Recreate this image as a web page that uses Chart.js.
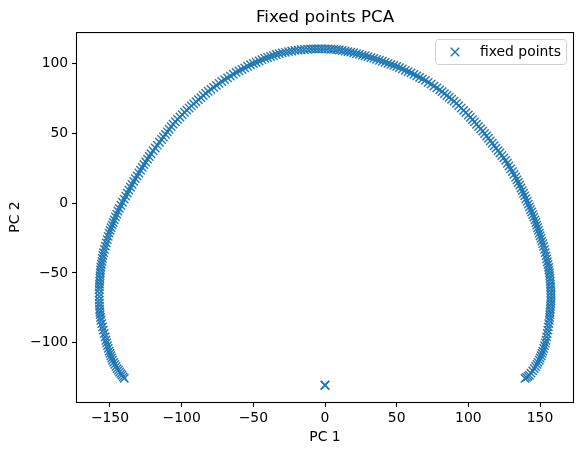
<!DOCTYPE html>
<html>
<head>
<meta charset="utf-8">
<script src="https://cdn.jsdelivr.net/npm/chart.js@4.4.0/dist/chart.umd.min.js"></script>
<style>
  html, body { margin: 0; padding: 0; background: #fff; }
  #wrap { width: 583px; height: 455px; }
</style>
</head>
<body>
<div id="wrap"><canvas id="pca" width="583" height="455"></canvas></div>
<script>
// fixed points along the horseshoe (left end -> top -> right end)
const pcX = [
  -140, -140.8, -141.6,
  -142.4, -143.3, -144.1,
  -145, -145.8, -146.6, -147.4,
  -148.2, -148.8, -149.4, -150,
  -150.6, -151.2, -151.7, -152.3,
  -152.8, -153.4, -154,
  -154.6, -155.2, -155.7,
  -156.3, -156.6, -156.8, -157,
  -157.2, -157.3, -157.4,
  -157.5, -157.5, -157.5,
  -157.5, -157.4, -157.3, -157.2,
  -157, -156.9, -156.7, -156.6,
  -156.4, -156, -155.6, -155.3, -154.9,
  -154.5, -153.9, -153.2, -152.6, -151.9, -151.3,
  -150.6, -149.9, -149.2, -148.4, -147.7,
  -147, -146.1, -145.3, -144.4,
  -143.5, -142.4, -141.3, -140.1,
  -139, -137.9, -136.8, -135.7, -134.6,
  -133.5, -132.3, -131.1, -129.9, -128.7,
  -127.5, -126.3, -125.1, -123.8, -122.6,
  -121.4, -119.9, -118.4, -117, -115.5,
  -114, -112.7, -111.3, -110, -108.7, -107.3,
  -106, -104.4, -102.8, -101.2, -99.6,
  -98, -96.4, -94.8, -93.2, -91.6,
  -90, -88.3, -86.6, -84.9, -83.2,
  -81.5, -79.6, -77.7, -75.8, -73.9,
  -72, -70, -68, -66, -64,
  -62, -60, -58, -56, -54,
  -52, -50, -48, -46, -44,
  -42, -40, -38, -36, -34,
  -32, -29.8, -27.6, -25.4, -23.2,
  -21, -18.8, -16.6, -14.4, -12.2,
  -10, -8, -6, -4, -2,
  0, 2, 4, 6, 8,
  10, 12, 14, 16, 18,
  20, 22, 24, 26, 28,
  30, 32, 34, 36, 38,
  40, 42, 44, 46, 48,
  50, 52, 54, 56, 58,
  60, 62, 64, 66, 68,
  70, 72, 74, 76, 78,
  80, 81.7, 83.3, 85, 86.7, 88.3,
  90, 91.7, 93.3, 95, 96.7, 98.3,
  100, 101.4, 102.9, 104.3, 105.7, 107.1, 108.6,
  110, 111.3, 112.7, 114, 115.3, 116.7,
  118, 119.3, 120.7, 122, 123.3, 124.7,
  126, 127.2, 128.3, 129.5, 130.7, 131.8,
  133, 133.9, 134.8, 135.8, 136.7, 137.6,
  138.5, 139.3, 140.1, 141, 141.8,
  142.6, 143.4, 144.2, 144.9, 145.7,
  146.5, 147.1, 147.7, 148.3, 148.9,
  149.5, 150.1, 150.7, 151.3, 151.9,
  152.5, 153.1, 153.6, 154.2,
  154.7, 155.1, 155.6,
  156, 156.2, 156.5, 156.7, 157,
  157.2, 157.3, 157.4, 157.5, 157.6,
  157.7, 157.6, 157.6,
  157.5, 157.3, 157.2, 157, 156.8, 156.7,
  156.5, 156.1, 155.8,
  155.4, 155, 154.6,
  154.2, 153.7, 153.1, 152.6,
  152, 151.4, 150.8, 150.1,
  149.5, 148.6, 147.8, 146.9,
  146, 144.9, 143.7,
  142.6, 141.6, 140.5, 139.5
];
const pcY = [
  -125.5, -124.4, -123.2,
  -122.1, -120.9, -119.7,
  -118.5, -117, -115.5, -114,
  -112.5, -110.9, -109.3, -107.6,
  -106, -104, -102.1, -100.1,
  -98.2, -95.8, -93.4,
  -91, -88.6, -86.3,
  -83.9, -81.9, -79.9, -78,
  -76, -73.8, -71.7,
  -69.5, -67, -64.5,
  -62, -60, -58, -56,
  -54, -52, -49.9, -47.9,
  -45.9, -43.8, -41.7, -39.7, -37.6,
  -35.5, -33.2, -30.8, -28.5, -26.2, -23.8,
  -21.5, -19.6, -17.7, -15.8, -13.9,
  -12, -9.9, -7.9, -5.8,
  -3.8, -1.6, 0.6, 2.8,
  5, 7.1, 9.2, 11.3, 13.4,
  15.5, 17.5, 19.5, 21.5, 23.5,
  25.5, 27.5, 29.4, 31.4, 33.3,
  35.3, 37.3, 39.4, 41.4, 43.5,
  45.5, 47.3, 49.2, 51, 52.8, 54.7,
  56.5, 58.2, 59.9, 61.6, 63.3,
  65, 66.5, 68, 69.5, 71,
  72.5, 74, 75.5, 77, 78.5,
  80, 81.4, 82.8, 84.2, 85.6,
  87, 88.3, 89.6, 90.9, 92.2,
  93.5, 94.6, 95.7, 96.8, 97.9,
  99, 99.9, 100.8, 101.7, 102.6,
  103.5, 104.2, 104.9, 105.6, 106.3,
  107, 107.5, 107.9, 108.4, 108.8,
  109.3, 109.5, 109.7, 109.9, 110.1,
  110.3, 110.4, 110.4, 110.4, 110.4,
  110.4, 110.3, 110.1, 110, 109.8,
  109.6, 109.2, 108.8, 108.4, 108,
  107.6, 107, 106.5, 105.9, 105.4,
  104.8, 104.1, 103.5, 102.8, 102.2,
  101.5, 100.8, 100, 99.3, 98.5,
  97.8, 96.9, 96, 95, 94.1,
  93.2, 92.1, 91, 90, 88.9,
  87.8, 86.4, 85.1, 83.7, 82.4,
  81, 79.7, 78.3, 77, 75.7, 74.3,
  73, 71.3, 69.7, 68, 66.3, 64.7,
  63, 61.4, 59.7, 58.1, 56.4, 54.8, 53.1,
  51.5, 49.8, 48, 46.3, 44.5, 42.8,
  41, 39.3, 37.5, 35.8, 34, 32.3,
  30.5, 28.5, 26.5, 24.5, 22.5, 20.5,
  18.5, 16.6, 14.7, 12.8, 10.8, 8.9,
  7, 5.1, 3.1, 1.2, -0.8,
  -2.7, -4.6, -6.4, -8.3, -10.1,
  -12, -13.9, -15.8, -17.7, -19.6,
  -21.5, -23.4, -25.3, -27.2, -29.1,
  -31, -33.3, -35.5, -37.8,
  -40, -42, -44,
  -46, -48, -50, -52, -54,
  -56, -58, -60, -62, -64,
  -66, -68, -70,
  -72, -74, -76, -78, -79.9, -81.9,
  -83.9, -86.3, -88.6,
  -91, -93.4, -95.8,
  -98.2, -100.2, -102.1, -104.1,
  -106, -107.6, -109.3, -110.9,
  -112.5, -114, -115.5, -117,
  -118.5, -120.1, -121.7,
  -123.3, -124, -124.8, -125.5
];
// the lone point near the origin (drawn a few times over itself)
const originX = [0, 0, 0];
const originY = [-130.4, -130.4, -130.4];

const xTicks = [-150, -100, -50, 0, 50, 100, 150];
const yTicks = [-100, -50, 0, 50, 100];
const xRange = [-173, 173];
const yRange = [-142.4, 122.4];

const blue = '#1f77b4';
const font = 'DejaVu Sans';

const points = pcX.map((x, i) => ({ x: x, y: pcY[i] }))
  .concat(originX.map((x, i) => ({ x: x, y: originY[i] })));

const minus = v => (v < 0 ? '\u2212' + Math.abs(v) : String(v));

// matplotlib style frame + legend box
const framePlugin = {
  id: 'frame',
  afterDraw(chart) {
    const ctx = chart.ctx;
    const a = chart.chartArea;
    ctx.save();
    ctx.strokeStyle = '#000';
    ctx.lineWidth = 1.1;
    ctx.strokeRect(a.left - 0.5, a.top + 0.5, a.right - a.left + 1, a.bottom - a.top);

    // legend
    const lx = 435.5, ly = 39.5, lw = 131, lh = 25, r = 3;
    ctx.beginPath();
    ctx.moveTo(lx + r, ly);
    ctx.lineTo(lx + lw - r, ly);
    ctx.arcTo(lx + lw, ly, lx + lw, ly + r, r);
    ctx.lineTo(lx + lw, ly + lh - r);
    ctx.arcTo(lx + lw, ly + lh, lx + lw - r, ly + lh, r);
    ctx.lineTo(lx + r, ly + lh);
    ctx.arcTo(lx, ly + lh, lx, ly + lh - r, r);
    ctx.lineTo(lx, ly + r);
    ctx.arcTo(lx, ly, lx + r, ly, r);
    ctx.closePath();
    ctx.fillStyle = 'rgba(255,255,255,0.8)';
    ctx.fill();
    ctx.strokeStyle = '#d0d0d0';
    ctx.lineWidth = 1;
    ctx.stroke();

    const mx = 455, my = 52, h = 4.2;
    ctx.beginPath();
    ctx.moveTo(mx - h, my - h); ctx.lineTo(mx + h, my + h);
    ctx.moveTo(mx - h, my + h); ctx.lineTo(mx + h, my - h);
    ctx.strokeStyle = blue;
    ctx.lineWidth = 1.4;
    ctx.stroke();

    ctx.fillStyle = '#000';
    ctx.font = '13.9px "' + font + '"';
    ctx.textBaseline = 'middle';
    ctx.textAlign = 'left';
    ctx.fillText('fixed points', 480, 52);
    ctx.restore();
  }
};

new Chart(document.getElementById('pca'), {
  type: 'scatter',
  data: {
    datasets: [{
      label: 'fixed points',
      data: points,
      pointStyle: 'crossRot',
      pointRadius: 5.9,
      pointHoverRadius: 5.9,
      pointBorderWidth: 1.4,
      pointBorderColor: blue,
      pointBackgroundColor: blue,
      showLine: false
    }]
  },
  options: {
    responsive: false,
    animation: false,
    events: [],
    layout: { padding: { left: 0, right: 10, top: 0, bottom: 0 } },
    plugins: {
      legend: { display: false },
      tooltip: { enabled: false },
      title: {
        display: true,
        text: 'Fixed points PCA',
        fullSize: false,
        color: '#000',
        font: { family: font, size: 16.7, weight: 'normal' },
        padding: { top: 8, bottom: 4 }
      }
    },
    scales: {
      x: {
        type: 'linear',
        min: xRange[0],
        max: xRange[1],
        afterBuildTicks: s => { s.ticks = xTicks.map(v => ({ value: v })); },
        afterFit: s => { s.height = 53; },
        border: { display: false },
        grid: { display: true, drawOnChartArea: false, drawTicks: true, tickLength: 5, tickColor: '#000', tickWidth: 1.1 },
        ticks: { color: '#000', padding: 3, font: { family: font, size: 13.9 }, callback: v => minus(v) },
        title: { display: true, text: 'PC 1', color: '#000', font: { family: font, size: 13.9 }, padding: { top: 0, bottom: 9.4 } }
      },
      y: {
        type: 'linear',
        min: yRange[0],
        max: yRange[1],
        afterBuildTicks: s => { s.ticks = yTicks.map(v => ({ value: v })); },
        afterFit: s => { s.width = 77; },
        border: { display: false },
        grid: { display: true, drawOnChartArea: false, drawTicks: true, tickLength: 5, tickColor: '#000', tickWidth: 1.1 },
        ticks: { color: '#000', padding: 3.8, font: { family: font, size: 13.9 }, callback: v => minus(v) },
        title: { display: true, text: 'PC 2', color: '#000', font: { family: font, size: 13.9 }, padding: { top: 6.7, bottom: 0 } }
      }
    }
  },
  plugins: [framePlugin]
});
</script>
</body>
</html>
